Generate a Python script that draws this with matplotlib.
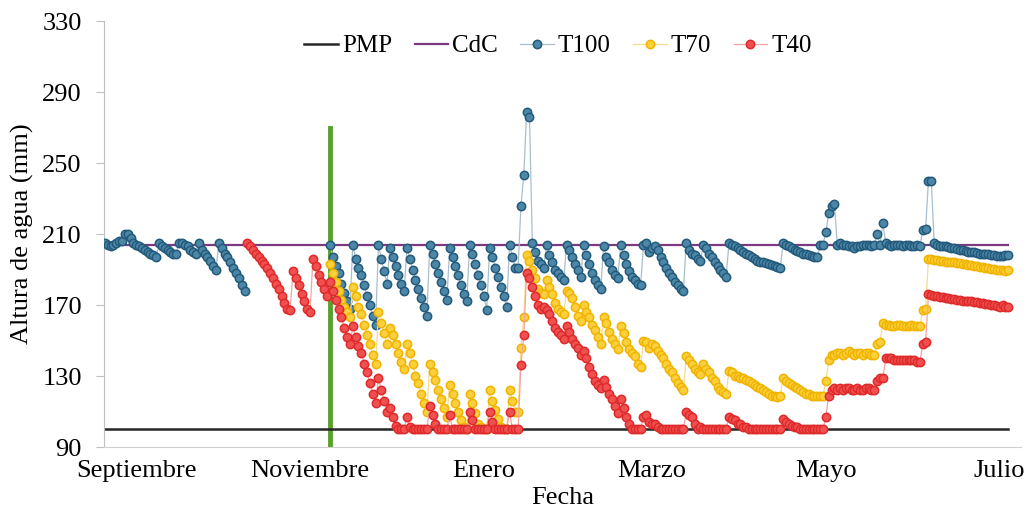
#######################################################
# Imports
#######################################################

import numpy as np
import pandas as pd
import matplotlib
matplotlib.use('Agg')
import matplotlib.pyplot as plt



#######################################################
# Data (altura de agua en mm, un valor por dia)
#######################################################

start_date = '2018-08-21'
n_days = 318

pmp = 100    # punto de marchitez permanente
cdc = 204    # capacidad de campo

inicio_tratamientos = '2018-11-08'
inicio_rango = [90, 270]

month_ticks = ['2018-09-01', '2018-11-01', '2019-01-01',
               '2019-03-01', '2019-05-01', '2019-07-01']
month_labels = ['Septiembre', 'Noviembre', 'Enero', 'Marzo', 'Mayo', 'Julio']

t100 = [
    205, 204, 203, 204, 205, 206, 206, 210, 210, 208,
    205, 204, 203, 202, 201, 200, 199, 198, 197,
    205, 203, 202, 201, 200, 199, 199,
    205, 205, 204, 203, 201, 200, 199,
    205, 201, 199, 197, 195, 192, 190,
    205, 202, 199, 197, 194, 191, 188, 185, 181, 178,
] + [None] * 29 + [
    204, 197, 192, 188, 182, 177, 172, 168,
    204, 196, 191, 187, 181, 175, 170, 164, 159,
    204, 196, 189, 182,
    202, 197, 192, 187, 182, 178,
    202, 196, 190, 184, 179, 174, 169, 164,
    204, 199, 193, 188, 183, 178, 173,
    202, 197, 192, 187, 181, 176, 172,
    204, 199, 193, 187, 181, 175, 167,
    202, 197, 191, 186, 180, 175, 169,
    204, 197, 191, 191, 226, 243, 279, 276, 205, 200, 195, 193, 191,
    204, 198, 194, 190, 188, 186, 184,
    204, 201, 197, 193, 190, 186,
    204, 198, 193, 188, 184, 181, 179,
    203, 197, 194, 190, 187, 185,
    204, 198, 193, 189, 186, 184, 182, 181,
    204, 205, 200, 202, 203, 201, 197, 194, 191, 188, 186, 183, 181, 179, 178,
    205, 201, 199, 198, 196, 195,
    204, 202, 199, 197, 194, 192, 190, 188, 186,
    205, 204, 203, 202, 201, 200, 199, 198, 197, 196, 195, 194.5, 194, 193.5,
    193, 192.5, 192, 191.5, 191,
    205, 204, 203, 202, 201, 200.5, 200, 199, 198.5, 198, 197.5, 197, 197,
    204, 204, 211, 222, 226, 227,
    204, 205, 204, 204, 203, 203, 202, 203, 203, 204, 204, 204, 203, 204,
    210, 204, 216, 205,
    204, 203, 204, 204, 204, 203, 204, 204, 203, 203, 204, 203,
    212, 213, 240, 240, 205,
    204, 203.5, 203, 203, 202.5, 202, 202, 201.5, 201, 201, 200.5, 200, 200,
    200, 199.5, 199, 199, 199, 198.5, 198, 198, 197.5, 197.5, 197.5, 198, 198,
]

t70 = [None] * 79 + [
    193, 188, 183, 178, 173, 169, 166, 163,
    180, 175, 169, 165, 159, 153, 148, 142, 137,
    166, 160, 154, 148,
    157, 153, 148, 143, 138, 134,
    148, 143, 137, 130, 126, 120, 115, 110,
    137, 132, 128, 122, 117, 112, 107,
    125, 120, 115, 110, 105, 101, 100,
    120, 115, 109, 103, 101, 100, 100,
    122, 116, 111, 106, 101, 100, 100,
    122, 116, 110, 110, 146, 163, 198, 195, 190, 185, 179, 177,
    176, 184, 180, 176, 171, 168, 166, 165,
    178, 177, 174, 169, 164, 161,
    170, 166, 163, 159, 156, 152, 148,
    163, 160, 155, 151, 148, 145,
    158, 154, 149, 145, 143, 141, 137, 135,
    150, 149, 146, 148, 147, 144, 142, 140, 137, 134, 132, 129, 126, 124, 122,
    141, 139, 137, 134, 132, 131,
    137, 134, 132, 129, 127, 124, 122, 121, 120,
    133, 132, 130, 130, 129, 129, 128, 127, 126, 125, 124, 123, 122, 121, 120,
    119, 119, 118, 119,
    129, 127, 126, 125, 124, 123, 122, 121, 120, 120, 119, 119, 119, 119, 119,
    127, 139, 142,
    142, 143, 143, 142, 143, 144, 143, 142, 143, 143, 142, 143, 143, 142, 142,
    148, 149, 160,
    159, 159, 158, 158, 159, 159, 158, 158, 158, 159, 158, 158, 158,
    167, 168, 196,
    196, 195.5, 195.5, 195, 195, 194.5, 194.5, 194, 194, 193.5, 193.5, 193, 193,
    192.5, 192.5, 192, 192, 191.5, 191.5, 191, 191, 190.5, 190.5, 190, 190,
    189.5, 189, 189.5,
]

t40 = [None] * 50 + [
    205, 203, 201, 199, 197, 195, 193, 191, 188, 185, 182, 179, 175, 171, 168, 167,
    189, 185, 181, 176, 172, 168, 166,
    196, 192, 187, 183, 179, 175,
    183, 178, 173, 168, 163, 157, 152, 148,
    158, 152, 147, 143, 137, 132, 126, 120, 115,
    129, 122, 116, 110,
    112, 107, 102, 100, 100, 100,
    107, 101, 100, 100, 100, 100, 100, 100,
    113, 108, 103, 100, 100, 100, 100,
    108, 100, 100, 100, 100, 100, 100,
    110, 105, 100, 100, 100, 100, 100,
    110, 104, 100, 100, 100, 100, 100,
    110, 100, 100, 100, 136, 153, 188, 185, 180, 175, 170, 168,
    169, 167, 165, 161, 157, 155, 153, 151,
    158, 155, 151, 148, 146, 142,
    144, 140, 135, 131, 127, 125, 123,
    128, 124, 120, 117, 113, 109,
    117, 112, 107, 103, 100, 100, 100, 100,
    107, 108, 104, 103, 103, 101, 100, 100, 100, 100, 100, 100, 100, 100, 100,
    110, 108, 107, 103, 100, 101,
    100, 100, 100, 100, 100, 100, 100, 100, 100,
    107, 106, 105, 103, 103, 101, 101, 100, 100, 100, 100, 100, 100, 100, 100,
    100, 100, 100, 100,
    106, 104, 103, 102, 101, 101, 100, 100, 100, 100, 100, 100, 100,
    100, 100, 107, 119, 122, 123,
    122, 123, 122, 123, 123, 122, 122, 123, 122, 122, 123, 123, 122, 122,
    127, 129, 129, 140,
    140, 140, 139, 139, 139, 139, 139, 139, 139, 139, 138, 138,
    148, 149, 176, 175.5, 175,
    175, 174.5, 174.5, 174, 174, 173.5, 173.5, 173, 173, 172.5, 172.5, 172, 172,
    171.5, 171.5, 171, 171, 170.5, 170.5, 170, 170, 169.5, 169, 170, 169, 169,
]



#######################################################
# Figure
#######################################################

plt.rcParams['font.family'] = ['Liberation Serif', 'DejaVu Serif']

dates = pd.date_range(start_date, periods=n_days, freq='D')
t100 = np.array(t100, dtype=float)
t70 = np.array(t70, dtype=float)
t40 = np.array(t40, dtype=float)

fig = plt.figure(figsize=(10.26, 5.16), dpi=100)
ax = fig.add_axes([0.1014, 0.1337, 0.8938, 0.8256])

# vertical line marking the start of the treatments (drawn under the markers)
fecha = pd.Timestamp(inicio_tratamientos)
ax.plot([fecha, fecha], inicio_rango, color='#5aa02c', lw=3.5, zorder=1)

ax.plot(dates, np.full(n_days, pmp), color='#262626', lw=1.8, label='PMP', zorder=2)
ax.plot(dates, np.full(n_days, cdc), color='#7e3a80', lw=1.6, label='CdC', zorder=2)

marker_kw = dict(marker='o', markersize=6, markeredgewidth=1.1, lw=0.9, zorder=3)
ax.plot(dates, t100, color='#a9bfcc', markerfacecolor='#4d87a8',
        markeredgecolor='#235a7b', label='T100', **marker_kw)
ax.plot(dates, t70, color='#f6dc8c', markerfacecolor='#fccf3c',
        markeredgecolor='#f0b400', label='T70', **marker_kw)
ax.plot(dates, t40, color='#f2a4a4', markerfacecolor='#f15050',
        markeredgecolor='#de2a2a', label='T40', **marker_kw)

# axes
ax.set_xlim(dates[0] - pd.Timedelta(hours=7), dates[0] + pd.Timedelta(days=321.5))
ax.set_ylim(90, 330)
ax.set_yticks(np.arange(90, 331, 40))
ax.set_xticks(pd.to_datetime(month_ticks))
ax.set_xticklabels(month_labels)

for side in ['top', 'right']:
    ax.spines[side].set_visible(False)
ax.spines['left'].set_color('#bfbfbf')
ax.spines['bottom'].set_color('#d0d0d0')
ax.tick_params(axis='y', colors='#bfbfbf', labelcolor='black', length=6,
               pad=10, labelsize=19)
ax.tick_params(axis='x', length=0, pad=9, labelsize=19)

ax.set_ylabel('Altura de agua (mm)', fontsize=19, labelpad=6)
ax.set_xlabel('Fecha', fontsize=19, labelpad=4)

ax.legend(loc='upper center', bbox_to_anchor=(0.495, 1.02), ncol=5, frameon=False,
          fontsize=18, handlelength=1.35, handletextpad=0.15, columnspacing=0.9)

fig.savefig('out.png', dpi=100)
